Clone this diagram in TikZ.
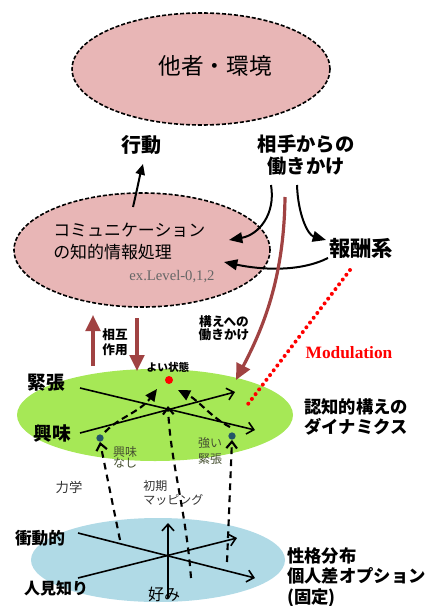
\documentclass[tikz,border=0pt]{standalone}
\usepackage{fontspec}
\setmainfont{Liberation Serif}
\newfontfamily\cjk{Noto Sans CJK JP}
\usetikzlibrary{arrows.meta,shapes.geometric}
\definecolor{pinkc}{RGB}{232,182,182}
\definecolor{greenc}{RGB}{166,232,86}
\definecolor{bluec}{RGB}{176,218,230}
\definecolor{brownc}{RGB}{160,66,66}
\definecolor{dotblue}{RGB}{36,86,104}
\definecolor{olive}{RGB}{70,80,50}
\newcommand{\fsz}[2]{\fontsize{#1}{#2}\selectfont}
\tikzset{
 ell/.style={ellipse, inner sep=0pt, draw=none},
 pinkell/.style={ell, fill=pinkc, draw=black, dashed, line width=1.2pt, dash pattern=on 3pt off 1.5pt},
 lbl/.style={inner sep=0pt, align=center},
 blk/.style={line width=1.5pt, -{Triangle[length=10pt,width=8pt]}},
 brn/.style={draw=brownc, line width=2.4pt, -{Triangle[length=12pt,width=11pt]}},
 axis/.style={line width=1.2pt, -{Straight Barb[length=5pt,width=9pt]}},
 dsh/.style={line width=1.6pt, dash pattern=on 5pt off 4pt, -{Straight Barb[length=5pt,width=8pt]}},
 wav/.style={line width=1.6pt, dash pattern=on 5pt off 3pt, -{Triangle[length=9pt,width=8pt]}},
}
\begin{document}
\begin{tikzpicture}[x=0.75pt,y=-0.75pt]
\useasboundingbox (0,0) rectangle (436,606);
% ellipses
\node[pinkell, minimum width=193.5pt, minimum height=84pt] (env) at (201,69) {};
\node[lbl, font={\cjk\fsz{17pt}{20pt}}] (envt) at (215,66) {他者・環境};
\node[pinkell, minimum width=192pt, minimum height=85.5pt] (comm) at (142,250) {};
\node[lbl, anchor=west, align=left, font={\cjk\fsz{12.7pt}{16.5pt}}] (commt) at (53,241) {コミュニケーション\\の知的情報処理};
\node[lbl, text=black!60, font={\fsz{11pt}{13pt}}] (lev) at (172,277) {ex.Level-0,1,2};
\node[ell, fill=greenc, minimum width=207pt, minimum height=69pt] (grn) at (155,415) {};
\node[ell, fill=bluec, minimum width=190.5pt, minimum height=63pt] (blu) at (158,560) {};
% labels
\node[lbl, font={\cjk\bfseries\fsz{15pt}{18pt}}] (act) at (141,145) {行動};
\node[lbl, font={\cjk\bfseries\fsz{14.5pt}{17pt}}] (work) at (306,155) {相手からの\\働きかけ};
\node[lbl, font={\cjk\bfseries\fsz{16pt}{19pt}}] (rew) at (361,248) {報酬系};
\node[lbl, text=red, font={\bfseries\fsz{13pt}{15pt}}] (mod) at (349,353) {Modulation};
\node[lbl, font={\cjk\bfseries\fsz{9.5pt}{11pt}}] (sogo) at (115,342) {相互\\作用};
\node[lbl, font={\cjk\bfseries\fsz{9.5pt}{9.5pt}}] (kamae) at (224,328) {構えへの\\働きかけ};
\node[lbl, font={\cjk\bfseries\fsz{8pt}{9pt}}] (good) at (168,367) {よい状態};
\node[lbl, font={\cjk\bfseries\fsz{14pt}{16pt}}] (kin) at (46,383) {緊張};
\node[lbl, font={\cjk\bfseries\fsz{14pt}{16pt}}] (kyo) at (52,433) {興味};
\node[lbl, font={\cjk\bfseries\fsz{13pt}{15pt}}] (dyn) at (356,417) {認知的構えの\\ダイナミクス};
\node[lbl, text=olive, font={\cjk\fsz{9pt}{8.5pt}}] (nok) at (125,457) {興味\\なし};
\node[lbl, text=olive, font={\cjk\fsz{9pt}{12pt}}] (stk) at (210,451) {強い\\緊張};
\node[lbl, text=black!80, font={\cjk\fsz{10pt}{12pt}}] (rik) at (69,487) {力学};
\node[lbl, anchor=west, align=left, text=black!80, font={\cjk\fsz{9pt}{11pt}}] (map) at (143,493) {初期\\マッピング};
\node[lbl, font={\cjk\bfseries\fsz{12.5pt}{15pt}}] (sho) at (40,538) {衝動的};
\node[lbl, font={\cjk\bfseries\fsz{12pt}{14pt}}] (hit) at (56,588) {人見知り};
\node[lbl, font={\cjk\fsz{12pt}{14pt}}] (kon) at (164,594) {好み};
\node[lbl, anchor=west, align=left, font={\cjk\bfseries\fsz{13pt}{15.5pt}}] (per) at (287,577) {性格分布\\個人差オプション\\(固定)};
% dots
\node[circle, fill=red, inner sep=0pt, minimum size=6pt] (gd) at (169,380) {};
\node[circle, fill=dotblue, inner sep=0pt, minimum size=5.5pt] (bd1) at (100,438) {};
\node[circle, fill=dotblue, inner sep=0pt, minimum size=5.5pt] (bd2) at (232,436) {};
% coordinates
\coordinate (actS) at (133,207);
\coordinate (actT) at (143,164);
\coordinate (w1) at (271,185);
\coordinate (w2) at (297,185);
\coordinate (c1) at (229,240);
\coordinate (r1) at (326,240);
\coordinate (r2) at (328,258);
\coordinate (c2) at (224,262);
\coordinate (br1) at (285,197);
\coordinate (br2) at (236,380);
\coordinate (md1) at (350,270);
\coordinate (md2) at (245,408);
\coordinate (up1) at (93,366);
\coordinate (up2) at (93,315);
\coordinate (dn1) at (137,318);
\coordinate (dn2) at (137,371);
\coordinate (ga1) at (80,388);
\coordinate (ga2) at (255,430);
\coordinate (gb1) at (80,433);
\coordinate (gb2) at (235,392);
\coordinate (wa1) at (105,432);
\coordinate (wa2) at (157,389);
\coordinate (wb1) at (230,427);
\coordinate (wb2) at (178,390);
\coordinate (cx) at (168,406);
\coordinate (l1) at (120,540);
\coordinate (m1) at (191,578);
\coordinate (rr1) at (227,562);
\coordinate (ba1) at (78,533);
\coordinate (ba2) at (255,578);
\coordinate (bb1) at (78,578);
\coordinate (bb2) at (237,538);
\coordinate (bc1) at (168,598);
\coordinate (bc2) at (168,523);
% connectors
\draw[blk, -{Triangle[length=8pt,width=7pt]}] (actS) .. controls (137,190) and (140,175) .. (actT);
\draw[blk] (w1) .. controls (276,215) and (258,235) .. (c1);
\draw[blk] (w2) .. controls (298,215) and (308,235) .. (r1);
\draw[blk] (r2) .. controls (300,272) and (262,270) .. (c2);
\draw[brn] (br1) .. controls (284,280) and (262,330) .. (br2);
\draw[red, line width=3pt, line cap=round, dash pattern=on 0pt off 4.5pt] (md1) -- (md2);
\draw[brn] (up1) -- (up2);
\draw[brn] (dn1) -- (dn2);
\draw[axis] (ga1) -- (ga2);
\draw[axis] (gb1) -- (gb2);
\draw[wav] (wa1) .. controls (118,418) and (140,412) .. (wa2);
\draw[wav] (wb1) .. controls (212,418) and (198,400) .. (wb2);
\draw[dsh] (l1) -- (bd1.south);
\draw[dsh] (m1) .. controls (186,510) and (170,460) .. (cx);
\draw[dsh] (rr1) -- (bd2.south);
\draw[axis] (ba1) -- (ba2);
\draw[axis] (bb1) -- (bb2);
\draw[axis] (bc1) -- (bc2);
\end{tikzpicture}
\end{document}
